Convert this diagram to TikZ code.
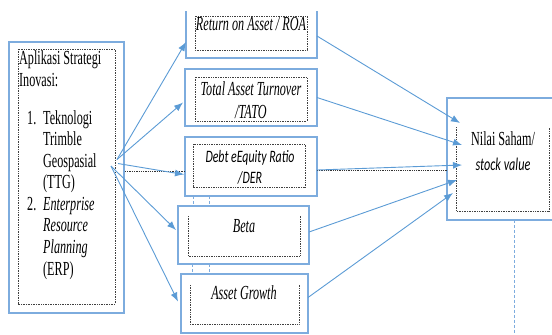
\documentclass[tikz,border=0pt]{standalone}
\usepackage{fontspec}
\usetikzlibrary{arrows.meta}
\newfontfamily\timesfont[FakeStretch=0.61]{Liberation Serif}
\newfontfamily\calibrifont[FakeStretch=0.68]{Carlito}
\definecolor{garisbiru}{RGB}{91,155,213}
\definecolor{kotakbiru}{RGB}{125,172,222}
\newcommand\butir[1]{\makebox[16bp][l]{#1}}

\begin{document}
\begin{tikzpicture}[x=1bp, y=-1bp, >={Latex[length=9bp,width=7bp]},
    kotak/.style={inner sep=0pt, outer sep=0pt, anchor=north west},
    garis/.style={draw=kotakbiru, line width=1.1bp},
    bingkai/.style={draw=black!75, densely dotted, line width=0.7bp},
    panah/.style={->, garisbiru, line width=0.9bp},
    titik/.style={draw=black!80, densely dotted, line width=0.8bp},
    bantu/.style={draw=kotakbiru, densely dashed, line width=0.5bp},
    teks/.style={font=\timesfont\fontsize{20}{21.6}\selectfont, inner sep=0pt},
    teksmiring/.style={font=\timesfont\itshape\fontsize{20}{22.5}\selectfont, inner sep=0pt},
    tekssans/.style={font=\calibrifont\itshape\fontsize{17.5}{21}\selectfont, inner sep=0pt}]
    \useasboundingbox (0,0) rectangle (552,334);
    \clip (0,0) rectangle (552,334);

    % kotak strategi di kiri (base = baris terakhir)
    \node[kotak, garis, minimum width=115bp, minimum height=271bp] (strategi) at (9,42) {};
    \draw[bingkai] (18,49) rectangle (115,304);
    \node[teks, align=left, anchor=base west] (judul) at (19,86) {Aplikasi Strategi\\Inovasi:};
    \node[teks, align=left, anchor=base west] (daftar) at (27,275)
      {\butir{1.}Teknologi\\\butir{}Trimble\\\butir{}Geospasial\\\butir{}(TTG)\\
       \butir{2.}\textit{Enterprise}\\\butir{}\textit{Resource}\\\butir{}\textit{Planning}\\\butir{}(ERP)};

    % kotak variabel di tengah
    \node[kotak, minimum width=131bp, minimum height=47bp] (roa) at (186,11) {};
    \draw[garis] (roa.north west) |- (roa.south east) -- (roa.north east);
    \draw[bingkai] (195,16) rectangle (307,50);
    \node[teksmiring, anchor=base] (troa) at (251,30) {Return on Asset / ROA};

    \node[kotak, garis, minimum width=132bp, minimum height=57bp] (tato) at (185,69) {};
    \draw[bingkai] (195,77) rectangle (307,121);
    \node[teksmiring, align=center, anchor=base] (ttato) at (251,118) {Total Asset Turnover\\/TATO};

    \node[kotak, garis, minimum width=132bp, minimum height=59bp] (der) at (185,137) {};
    \draw[bingkai] (193,144) rectangle (305,187);
    \node[tekssans, align=center, anchor=base] (tder) at (250,183) {Debt eEquity Ratio\\/DER};

    \node[kotak, garis, minimum width=131bp, minimum height=58bp] (beta) at (178,206) {};
    \draw[bingkai] (188,216) |- (300,256) -- (300,216);
    \node[teksmiring, anchor=base] (tbeta) at (244,232) {Beta};

    \node[kotak, garis, minimum width=127bp, minimum height=59bp] (growth) at (181,274) {};
    \draw[bingkai] (190,285) |- (299,324) -- (299,285);
    \node[teksmiring, anchor=base] (tgrowth) at (244,299) {Asset Growth};

    % sisa garis penghubung
    \foreach \x/\ya/\yb in {193/196/206, 209/196/206, 192/264/274, 209/264/274, 514/220/334}
      \draw[bantu] (\x,\ya) -- (\x,\yb);

    % kotak nilai saham di kanan
    \node[kotak, garis, minimum width=120bp, minimum height=122bp] (nilai) at (447,98) {};
    \draw[bingkai] (456,127) |- (549,211) -- (549,127);
    \node[teks, align=center, anchor=base] (tnilai) at (503,170)
      {Nilai Saham/\\[3bp]{\calibrifont\itshape\fontsize{18}{21}\selectfont stock value}};

    % panah dari strategi
    \coordinate (pangkal) at ([xshift=-7bp,yshift=18bp]strategi.east);
    \coordinate (pangkalb) at ([xshift=-13bp,yshift=11.5bp]strategi.east);
    \draw[titik] ([yshift=-4.5bp]der.west) -- ([yshift=-4.5bp]der.west -| strategi.east);
    \draw[titik] ([yshift=-3.5bp]der.east) -- ([yshift=-3.5bp]der.east -| nilai.west);
    \draw[panah] (pangkal) -- ([yshift=16bp]roa.south west);
    \draw[panah] (pangkal) -- ([xshift=-2bp,yshift=-5bp]tato.west);
    \draw[panah] ([xshift=-6bp,yshift=14bp]strategi.east) -- ([xshift=-1bp,yshift=-8bp]der.west);
    \draw[panah] (pangkalb) -- ([xshift=-2bp,yshift=5bp]beta.west);
    \draw[panah] (pangkalb) -- ([xshift=-3bp,yshift=2bp]growth.west);

    % panah ke nilai saham
    \draw[panah] ([yshift=-1.5bp]roa.east) -- ([xshift=13bp,yshift=36bp]nilai.west);
    \draw[panah] (tato.east) -- ([xshift=15bp,yshift=14bp]nilai.west);
    \draw[panah] ([yshift=-3.5bp]der.east) -- ([xshift=15bp,yshift=-6bp]nilai.west);
    \draw[panah] ([yshift=3bp]beta.east) -- ([xshift=10bp,yshift=-21bp]nilai.west);
    \draw[panah] ([yshift=6bp]growth.east) -- ([xshift=6bp,yshift=-34bp]nilai.west);
\end{tikzpicture}
\end{document}
